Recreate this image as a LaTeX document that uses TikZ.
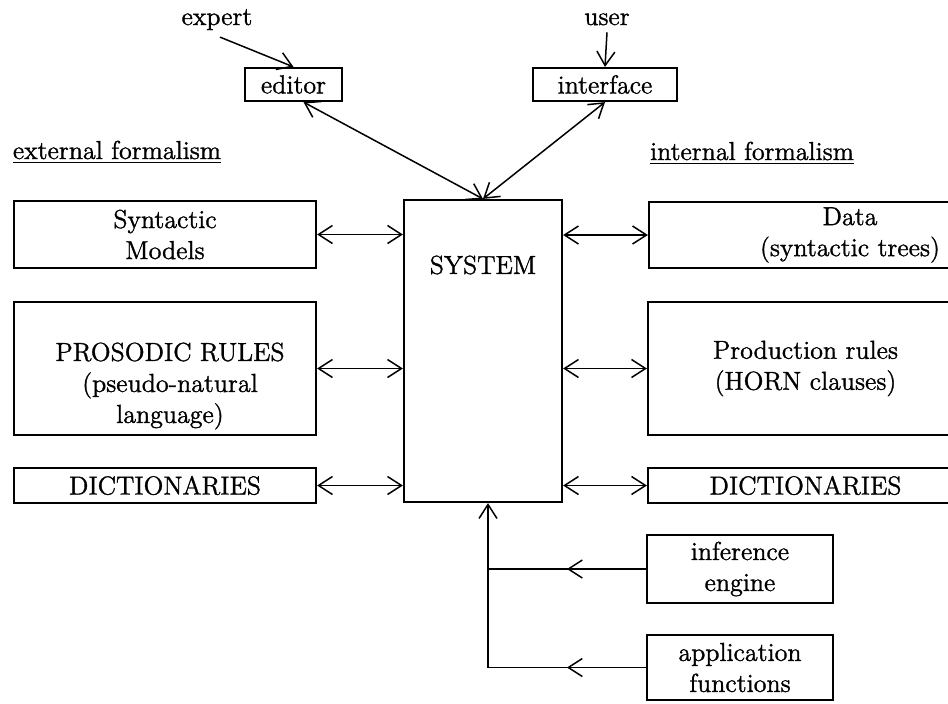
\documentclass[tikz,border=0pt]{standalone}
\usepackage{fontspec}
\setmainfont{Latin Modern Roman}[RawFeature={embolden=1.2}]
\usetikzlibrary{arrows.meta,decorations.markings}

\begin{document}
\begin{tikzpicture}[x=0.5pt,y=-0.5pt,>={Straight Barb[length=7pt,width=9pt]},
  font=\fontsize{13}{15.5}\selectfont,
  box/.style={draw,line width=1.1pt,align=center,inner sep=2pt},
  link/.style={line width=0.75pt},
  midarrow/.style={link,decoration={markings,mark=at position 0.5 with {\arrow{>}}},
                   postaction={decorate}}]
\useasboundingbox (0,0) rectangle (948,703);

% who talks to the system
\node[anchor=base] (expert) at (217,25) {expert};
\node[anchor=base] (user) at (607,25) {user};
\node[box,minimum width=48.5pt,minimum height=16.5pt] (editor) at (293.5,84.5) {editor};
\node[box,minimum width=72pt,minimum height=16.5pt] (iface) at (605,84.5) {interface};

\node[anchor=base] (extf) at (117,159) {\underline{external formalism}};
\node[anchor=base] (intf) at (752,160) {\underline{internal formalism}};

% the system itself
\node[box,minimum width=79pt,minimum height=151pt] (sys) at (483,351) {};
\node (systxt) at (483,265) {SYSTEM};

% external side
\node[box,minimum width=151pt,minimum height=33.5pt] (synt) at (165,234.5) {Syntactic\\Models};
\node[box,minimum width=151pt,minimum height=66.5pt] (pros) at (165,368.5) {};
\node[align=center] (prostxt) at (170,386) {PROSODIC RULES\\(pseudo-natural\\language)};
\node[box,minimum width=151pt,minimum height=17.5pt] (dictl) at (165,485.5) {DICTIONARIES};

% internal side (runs off the right edge)
\node[box,minimum width=201pt,minimum height=33pt] (data) at (850,235) {Data\\(syntactic trees)};
\node[box,minimum width=157.5pt,minimum height=66.5pt] (prod) at (805.5,368.5) {Production rules\\(HORN clauses)};
\node[box,minimum width=157.5pt,minimum height=17.5pt] (dictr) at (805.5,485.5) {DICTIONARIES};

\node[box,minimum width=93pt,minimum height=34pt] (inf) at (740,569) {inference\\engine};
\node[box,minimum width=93pt,minimum height=32.5pt] (app) at (740,667.5) {application\\functions};

% connectors
\draw[link,->] ([xshift=1.5pt]expert.south) -- (editor.north);
\draw[link,->] (user.south) -- (iface.north);
\draw[link,<->] ([xshift=5pt]editor.south) -- (sys.north);
\draw[link,<->] (iface.south) -- (sys.north);
\foreach \b in {synt,pros,dictl}
  \draw[link,<->] (\b.east) -- (\b.east -| sys.west);
\foreach \b in {data,prod,dictr}
  \draw[link,<->] (sys.east |- \b.west) -- (\b.west);

\coordinate (feed) at ([xshift=2.5pt]sys.south);
\draw[midarrow] (inf.west) -- (inf.west -| feed);
\draw[midarrow] (app.west) -- (app.west -| feed);
\draw[link,->] (app.west -| feed) -- (feed);
\end{tikzpicture}
\end{document}
